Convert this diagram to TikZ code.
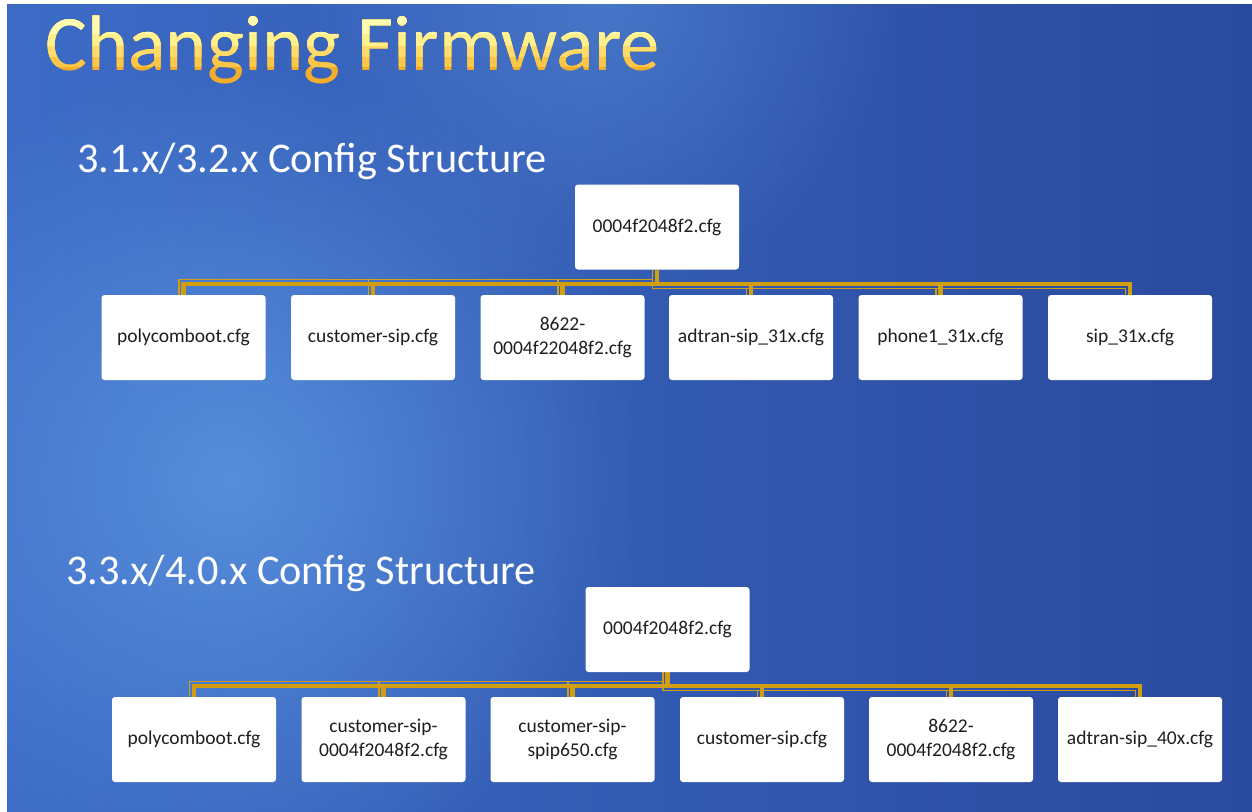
\documentclass[tikz,border=0pt]{standalone}
\usepackage{fontspec}
\setmainfont{Carlito}
\usetikzlibrary{fadings,calc}
\definecolor{bgleft}{HTML}{3C6BC6}
\definecolor{bgright}{HTML}{2A4A9E}
\definecolor{glow}{HTML}{5A92DE}
\definecolor{gold}{HTML}{D19E12}
\definecolor{boxtext}{HTML}{1E1E1E}
\definecolor{titletop}{HTML}{FFFBB0}
\definecolor{titlem1}{HTML}{FFF08E}
\definecolor{titlem2}{HTML}{FFDC6A}
\definecolor{titlem3}{HTML}{FBC748}
\definecolor{titlebot}{HTML}{F2AE28}
\tikzfading[name=glowfade, inner color=transparent!0, outer color=transparent!100]
\pgfdeclarelayer{bglayer}
\pgfdeclarelayer{edgelayer}
\pgfsetlayers{bglayer,edgelayer,main}
\tikzset{
  filebox/.style={fill=white, rounded corners=3pt, minimum width=164pt, minimum height=85pt,
    inner sep=2pt, align=center, font=\fontsize{19.5}{24}\selectfont, text=boxtext},
  conn/.style={draw=gold, line width=4.5pt},
  thinc/.style={draw=gold, line width=1.8pt},
  subtitle/.style={anchor=base west, inner sep=0pt, text=white, font=\fontsize{42.3}{50}\selectfont},
  titlestyle/.style={anchor=base west, inner sep=0pt},
}
\newcommand{\titletext}{\fontsize{78.5}{94}\selectfont Changing Firmware}
\newcommand{\branch}[4]{% root, child, bus y, dy of thin line
  \draw[thinc] ($(#1.south)+(-4.5,0)$) -- ($(#1.south|-0,#3)+(-4.5,#4)$) -| ($(#2.north)+(-4.5,0)$);
  \draw[conn] (#1.south) -- (#1.south|-0,#3) -| (#2.north);
}
\begin{document}
\begin{tikzpicture}[x=1pt,y=-1pt]
\useasboundingbox (0,0) rectangle (1252,811);
\begin{pgfonlayer}{bglayer}
\fill[white] (0,0) rectangle (1252,811);
\shade[left color=bgleft, right color=bgright] (7,4) rectangle (1252,811);
\begin{scope}
\clip (7,4) rectangle (1252,811);
\fill[glow, path fading=glowfade, opacity=0.9] (230,480) circle (420);
\fill[glow, path fading=glowfade, opacity=0.5] (600,0) circle (300);
\end{scope}
\end{pgfonlayer}
% title with vertical gradient by bands
\node[titlestyle, text=titlebot] (title) at (45,70) {\titletext};
\begin{scope}
\clip (0,0) rectangle (1252,66);
\node[titlestyle, text=titlem3] at (45,70) {\titletext};
\end{scope}
\begin{scope}
\clip (0,0) rectangle (1252,56);
\node[titlestyle, text=titlem2] at (45,70) {\titletext};
\end{scope}
\begin{scope}
\clip (0,0) rectangle (1252,45);
\node[titlestyle, text=titlem1] at (45,70) {\titletext};
\end{scope}
\begin{scope}
\clip (0,0) rectangle (1252,33);
\node[titlestyle, text=titletop] at (45,70) {\titletext};
\end{scope}
% subtitles
\node[subtitle] (sub1) at (77,172) {3.1.x/3.2.x Config Structure};
\node[subtitle] (sub2) at (66,584) {3.3.x/4.0.x Config Structure};
% top tree
\node[filebox] (ra) at (657,227) {0004f2048f2.cfg};
\node[filebox] (a1) at (183.5,337.5) {polycomboot.cfg};
\node[filebox] (a2) at (373,337.5) {customer-sip.cfg};
\node[filebox] (a3) at (562.5,337.5) {8622-\\0004f22048f2.cfg};
\node[filebox] (a4) at (751,337.5) {adtran-sip\_31x.cfg};
\node[filebox] (a5) at (940.5,337.5) {phone1\_31x.cfg};
\node[filebox] (a6) at (1130,337.5) {sip\_31x.cfg};
% bottom tree
\node[filebox] (rb) at (667.5,629.5) {0004f2048f2.cfg};
\node[filebox] (b1) at (194,739.5) {polycomboot.cfg};
\node[filebox] (b2) at (383.5,739.5) {customer-sip-\\0004f2048f2.cfg};
\node[filebox] (b3) at (572.5,739.5) {customer-sip-\\spip650.cfg};
\node[filebox] (b4) at (762,739.5) {customer-sip.cfg};
\node[filebox] (b5) at (951,739.5) {8622-\\0004f2048f2.cfg};
\node[filebox] (b6) at (1140,739.5) {adtran-sip\_40x.cfg};
\begin{pgfonlayer}{edgelayer}
\foreach \c in {a1,a2,a3}{\branch{ra}{\c}{284}{-4.5}}
\foreach \c in {a4,a5,a6}{\branch{ra}{\c}{284}{4.5}}
\foreach \c in {b1,b2,b3}{\branch{rb}{\c}{686}{-4.5}}
\foreach \c in {b4,b5,b6}{\branch{rb}{\c}{686}{4.5}}
\end{pgfonlayer}
\end{tikzpicture}
\end{document}
